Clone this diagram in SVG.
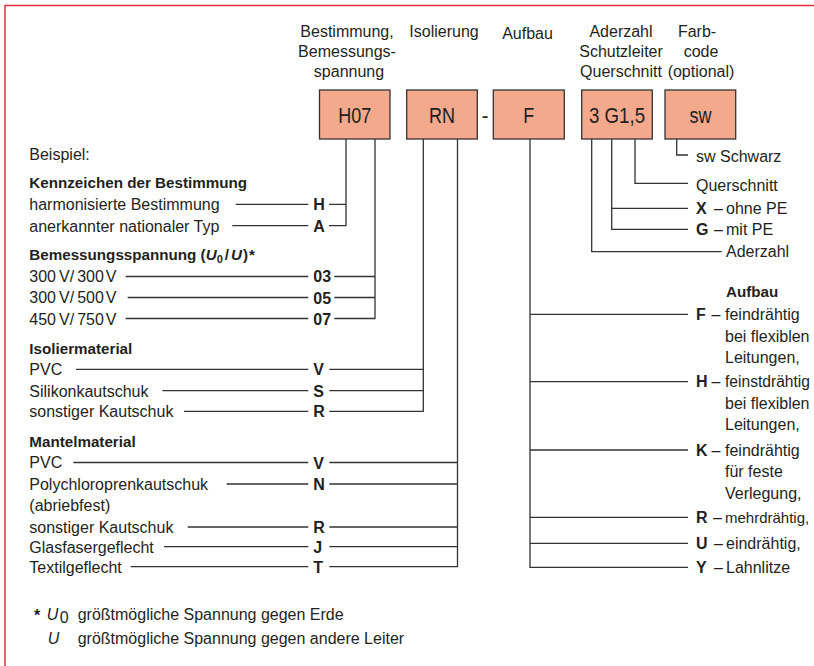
<svg xmlns="http://www.w3.org/2000/svg" width="814" height="666" viewBox="0 0 814 666">
<style>
text{font-family:"Liberation Sans",Arial,sans-serif;font-size:16px;fill:#231f20}
.b{font-weight:bold}
.h{font-weight:bold;font-size:15.2px}
.m{text-anchor:middle}
.bx{text-anchor:middle;font-size:22px}
.box{fill:#f4a98c;stroke:#333;stroke-width:1.3}
.ln{fill:none;stroke:#333;stroke-width:1.3}
.i{font-style:italic}
</style>
<rect x="0" y="0" width="814" height="666" fill="#fff"/>
<path d="M5 666V5.5H814" fill="none" stroke="#e0323c" stroke-width="1.5"/>

<g id="headers">
<text class="m" x="347" y="36.5">Bestimmung,</text>
<text class="m" x="347" y="56.5">Bemessungs-</text>
<text class="m" x="349" y="76.5">spannung</text>
<text class="m" x="444" y="36.5">Isolierung</text>
<text class="m" x="527.5" y="38.5">Aufbau</text>
<text class="m" x="621" y="36.5">Aderzahl</text>
<text class="m" x="621" y="56.5">Schutzleiter</text>
<text class="m" x="621" y="76.5">Querschnitt</text>
<text class="m" x="697" y="36.5">Farb-</text>
<text class="m" x="701" y="56.5">code</text>
<text class="m" x="701" y="76.5">(optional)</text>
</g>

<g id="box-h07"><rect class="box" x="319.5" y="90" width="70.5" height="49"/><text class="bx" transform="translate(354.7 123.3) scale(0.82 1)">H07</text></g>
<g id="box-rn"><rect class="box" x="406.7" y="90" width="70.6" height="49"/><text class="bx" transform="translate(442 123.3) scale(0.82 1)">RN</text></g>
<g id="dash"><text class="bx" transform="translate(485 123.3) scale(0.9 1)">-</text></g>
<g id="box-f"><rect class="box" x="493.3" y="90" width="71" height="49"/><text class="bx" transform="translate(528.8 123.3) scale(0.82 1)">F</text></g>
<g id="box-3g"><rect class="box" x="581.7" y="90" width="70.6" height="49"/><text class="bx" transform="translate(617 123.3) scale(0.85 1)">3 G1,5</text></g>
<g id="box-sw"><rect class="box" x="665" y="90" width="70.7" height="49"/><text class="bx" transform="translate(700.4 123.3) scale(0.82 1)">sw</text></g>

<g id="left-labels">
<text x="29.3" y="160">Beispiel:</text>
<text class="h" x="29.3" y="188.3">Kennzeichen der Bestimmung</text>
<text x="29.3" y="210.3">harmonisierte Bestimmung</text>
<text x="29.3" y="231.7">anerkannter nationaler Typ</text>
<text class="h" x="29.3" y="260">Bemessungsspannung (<tspan class="i">U</tspan><tspan dy="3" font-size="11">0</tspan><tspan dx="2" dy="-3">/</tspan><tspan class="i" dx="2">U</tspan><tspan dx="1">)</tspan><tspan dx="1">*</tspan></text>
<text x="29.3" y="282">300<tspan dx="3">V/</tspan><tspan dx="3">300</tspan><tspan dx="2">V</tspan></text>
<text x="29.3" y="303.3">300<tspan dx="3">V/</tspan><tspan dx="3">500</tspan><tspan dx="2">V</tspan></text>
<text x="29.3" y="324.5">450<tspan dx="3">V/</tspan><tspan dx="3">750</tspan><tspan dx="2">V</tspan></text>
<text class="h" x="29.3" y="354">Isoliermaterial</text>
<text x="29.3" y="375.3">PVC</text>
<text x="29.3" y="396.7">Silikonkautschuk</text>
<text x="29.3" y="417.3">sonstiger Kautschuk</text>
<text class="h" x="29.3" y="446.7">Mantelmaterial</text>
<text x="29.3" y="468.3">PVC</text>
<text x="29.3" y="489.5">Polychloroprenkautschuk</text>
<text x="29.3" y="510.7">(abriebfest)</text>
<text x="29.3" y="532.5">sonstiger Kautschuk</text>
<text x="29.3" y="552.7">Glasfasergeflecht</text>
<text x="29.3" y="573.3">Textilgeflecht</text>
</g>

<g id="codes-left">
<text class="b" x="313.3" y="210.3">H</text>
<text class="b" x="313.3" y="231.7">A</text>
<text class="b" x="313.3" y="282.3">03</text>
<text class="b" x="313.3" y="303.5">05</text>
<text class="b" x="313.3" y="324.5">07</text>
<text class="b" x="313.3" y="375.3">V</text>
<text class="b" x="313.3" y="396.7">S</text>
<text class="b" x="313.3" y="417.3">R</text>
<text class="b" x="313.3" y="468.5">V</text>
<text class="b" x="313.3" y="490">N</text>
<text class="b" x="313.3" y="533">R</text>
<text class="b" x="313.3" y="552.7">J</text>
<text class="b" x="313.3" y="573">T</text>
</g>

<g id="right-labels">
<text x="696" y="162">sw Schwarz</text>
<text x="696" y="190.5">Querschnitt</text>
<text x="696" y="213.5"><tspan class="b">X</tspan><tspan x="714">–</tspan><tspan x="726">ohne PE</tspan></text>
<text x="696" y="234.5"><tspan class="b">G</tspan><tspan x="714">–</tspan><tspan x="726">mit PE</tspan></text>
<text x="726" y="256.5">Aderzahl</text>
<text class="h" x="726" y="297.3">Aufbau</text>
<text x="696" y="320"><tspan class="b">F</tspan><tspan x="711.5">–</tspan><tspan x="725">feindrähtig</tspan></text>
<text x="725" y="341.7">bei flexiblen</text>
<text x="725" y="363.3">Leitungen,</text>
<text x="696" y="387.3"><tspan class="b">H</tspan><tspan x="711.5">–</tspan><tspan x="725" font-size="15.6">feinstdrähtig</tspan></text>
<text x="725" y="408.7">bei flexiblen</text>
<text x="725" y="430.3">Leitungen,</text>
<text x="696" y="455.5"><tspan class="b">K</tspan><tspan x="711.5">–</tspan><tspan x="725">feindrähtig</tspan></text>
<text x="725" y="477.3">für feste</text>
<text x="725" y="499">Verlegung,</text>
<text x="696" y="522.8"><tspan class="b">R</tspan><tspan x="713">–</tspan><tspan x="725" font-size="15">mehrdrähtig,</tspan></text>
<text x="696" y="549"><tspan class="b">U</tspan><tspan x="714">–</tspan><tspan x="726">eindrähtig,</tspan></text>
<text x="696" y="573.2"><tspan class="b">Y</tspan><tspan x="714">–</tspan><tspan x="726">Lahnlitze</tspan></text>
</g>

<g id="footnote">
<text x="34" y="621" font-size="20" class="b">*</text>
<text class="i" x="46.7" y="620">U</text>
<text x="59.8" y="623" font-size="11">0</text>
<text x="77.7" y="620">größtmögliche Spannung gegen Erde</text>
<text class="i" x="47.7" y="644">U</text>
<text x="77.7" y="644">größtmögliche Spannung gegen andere Leiter</text>
</g>

<g id="connectors" class="ln">
<path d="M235.7 204.3H308.3M232.3 225.7H308.3"/>
<path d="M329 204.3H346M329 225.7H346V139"/>
<path d="M125.7 276.5H308.3M127.7 297.5H308.3M125.7 318.5H308.3"/>
<path d="M334.3 276.5H375M334.3 297.5H375M334.3 318.5H375V139"/>
<path d="M76 369.3H308.3M162.3 390.7H308.3M184 411.3H308.3"/>
<path d="M329.3 369.3H423.3M329.3 390.7H423.3M329.3 411.3H423.3V139"/>
<path d="M73.3 462.5H308.3M226.7 484H308.3M187.7 527H308.3M164 546.7H308.3M130.7 566.7H308.3"/>
<path d="M329.3 462.5H457.5M329.3 484H457.5M329.3 527H457.5M329.3 546.7H457.5M329.3 566.7H457.5V139"/>
<path d="M530 139V567.3H688M530 314.3H688M530 381.7H688M530 450H688M530 517.3H688M530 543.3H688"/>
<path d="M591.7 139V251.7H721.7"/>
<path d="M611.7 139V229.3H688M611.7 208.3H688"/>
<path d="M635 139V183.3H688"/>
<path d="M676.7 139V155H688"/>
</g>
</svg>
